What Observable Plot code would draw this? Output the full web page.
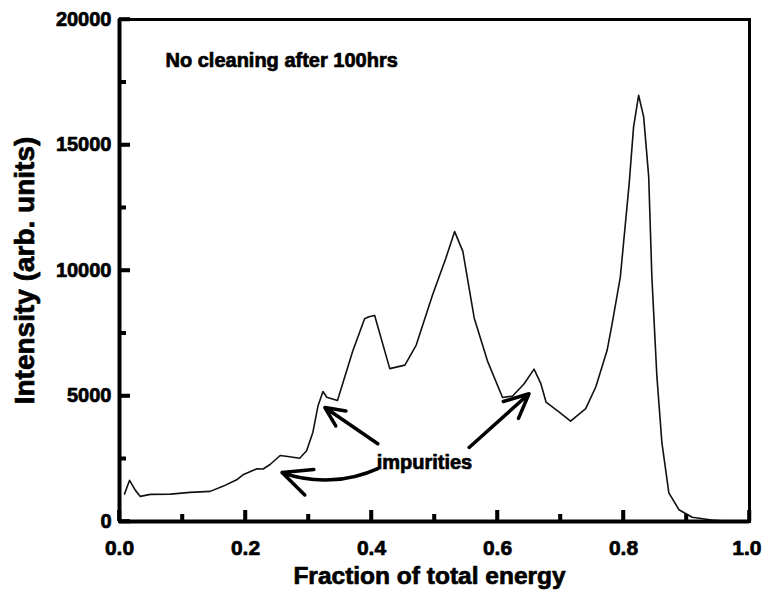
<!DOCTYPE html>
<html>
<head>
<meta charset="utf-8">
<script src="https://cdn.jsdelivr.net/npm/d3@7"></script>
<script src="https://cdn.jsdelivr.net/npm/@observablehq/plot@0.6"></script>
<style>
  body { margin: 0; background: #fff; }
  #chart svg { display: block; }
</style>
</head>
<body>
<div id="chart"></div>
<script>
// Energy spectrum of the plasma, no cleaning after 100 hours
const energy = [
  0.008, 0.016, 0.025, 0.033, 0.049, 0.081, 0.112, 0.144, 0.165, 0.186,
  0.196, 0.218, 0.228, 0.239, 0.255, 0.270, 0.286, 0.297, 0.307, 0.315,
  0.323, 0.329, 0.346, 0.370, 0.389, 0.396, 0.405, 0.429, 0.453, 0.471,
  0.497, 0.518, 0.532, 0.545, 0.563, 0.584, 0.608, 0.624, 0.642, 0.658,
  0.669, 0.677, 0.698, 0.716, 0.740, 0.756, 0.774, 0.782, 0.795, 0.809,
  0.816, 0.824, 0.832, 0.840, 0.845, 0.853, 0.861, 0.872, 0.888, 0.909,
  0.940, 0.970
];
const intensity = [
  1100, 1640, 1250, 1000, 1080, 1090, 1160, 1200, 1410, 1660,
  1860, 2100, 2090, 2270, 2630, 2580, 2520, 2820, 3560, 4600,
  5180, 4950, 4820, 6770, 8080, 8160, 8210, 6090, 6230, 7030,
  9030, 10490, 11550, 10760, 8110, 6400, 4940, 5000, 5480, 6070,
  5480, 4760, 4360, 4000, 4500, 5360, 6820, 7880, 9750, 13460,
  15720, 16980, 16120, 13740, 9760, 5780, 3130, 1140, 470, 170,
  60, 0
];

// Axis ticks
const xMajorTicks = [0, 0.2, 0.4, 0.6, 0.8, 1.0];
const xMinorTicks = [0.1, 0.3, 0.5, 0.7, 0.9];
const yMajorTicks = [0, 5000, 10000, 15000, 20000];
const yMinorTicks = [2500, 7500, 12500, 17500];

// Text labels
const xLabel = "Fraction of total energy";
const yLabel = "Intensity (arb. units)";
const titleText = "No cleaning after 100hrs";
const titleX = 0.073;
const titleY = 18350;
const impurityText = "impurities";
const impurityX = 0.484;
const impurityY = 2350;

// Arrows pointing from the "impurities" label to the impurity peaks
const arrowFromX = [0.410, 0.410, 0.555];
const arrowFromY = [3100, 2110, 2950];
const arrowToX = [0.326, 0.258, 0.650];
const arrowToY = [4540, 1950, 5090];
const arrowBend = [0, 22, 0];

const spectrum = energy.map((e, i) => ({energy: e, intensity: intensity[i]}));
const arrows = arrowFromX.map((x, i) => ({
  x1: x, y1: arrowFromY[i], x2: arrowToX[i], y2: arrowToY[i], bend: arrowBend[i]
}));

const font = "'Liberation Sans', Arial, Helvetica, sans-serif";
// bold text drawn with a thin outline of the same colour for a heavier face
const heavy = {fontWeight: "bold", fill: "#000", stroke: "#000", strokeWidth: 0.7};

const W = 762, H = 602;
const mL = 119, mR = 13, mT = 19, mB = 81;
const innerW = W - mL - mR, innerH = H - mT - mB;
// inward tick marks: short bars kept next to the axis by insetting the rest of the frame
const majorLen = 11, minorLen = 7, half = 1.75;
const tickFill = {fill: "#000", stroke: "none"};

const chart = Plot.plot({
  width: W,
  height: H,
  marginLeft: mL,
  marginRight: mR,
  marginTop: mT,
  marginBottom: mB,
  style: {fontFamily: font, fontWeight: "bold", color: "#000", background: "#fff"},
  x: {domain: [0, 1], axis: null},
  y: {domain: [0, 20000], axis: null},
  marks: [
    // spectrum
    Plot.line(spectrum, {x: "energy", y: "intensity", stroke: "#111", strokeWidth: 1.6}),
    // annotations
    Plot.text([titleText], {x: titleX, y: titleY, textAnchor: "start", fontSize: 20, ...heavy}),
    Plot.text([impurityText], {x: impurityX, y: impurityY, textAnchor: "middle", fontSize: 20, ...heavy}),
    ...arrows.map((a) => Plot.arrow([a], {x1: "x1", y1: "y1", x2: "x2", y2: "y2", bend: a.bend, stroke: "#000", strokeWidth: 3.5, headLength: 14, headAngle: 50})),
    // frame and heavy axes
    Plot.frame({stroke: "#000", strokeWidth: 3}),
    Plot.ruleX([0], {stroke: "#000", strokeWidth: 4}),
    Plot.ruleY([0], {stroke: "#000", strokeWidth: 4}),
    // tick marks on the bottom axis
    Plot.rect(xMajorTicks, {x1: (d) => d, x2: (d) => d, insetLeft: -half, insetRight: -half, insetTop: innerH - majorLen, ...tickFill}),
    Plot.rect(xMinorTicks, {x1: (d) => d, x2: (d) => d, insetLeft: -half, insetRight: -half, insetTop: innerH - minorLen, ...tickFill}),
    Plot.ruleX(xMajorTicks, {x: (d) => d, insetTop: innerH - majorLen, stroke: "#000", strokeWidth: 3.5}),
    Plot.ruleX(xMinorTicks, {x: (d) => d, insetTop: innerH - minorLen, stroke: "#000", strokeWidth: 3.5}),
    // tick marks on the left axis
    Plot.rect(yMajorTicks, {y1: (d) => d, y2: (d) => d, insetTop: -half, insetBottom: -half, insetRight: innerW - majorLen, ...tickFill}),
    Plot.rect(yMinorTicks, {y1: (d) => d, y2: (d) => d, insetTop: -half, insetBottom: -half, insetRight: innerW - minorLen, ...tickFill}),
    Plot.ruleY(yMajorTicks, {y: (d) => d, insetRight: innerW - majorLen, stroke: "#000", strokeWidth: 3.5}),
    Plot.ruleY(yMinorTicks, {y: (d) => d, insetRight: innerW - minorLen, stroke: "#000", strokeWidth: 3.5}),
    // tick labels
    Plot.text(xMajorTicks.slice(0, -1), {x: (d) => d, frameAnchor: "bottom", lineAnchor: "middle", textAnchor: "middle", dy: 27, text: d3.format(".1f"), fontSize: 21, ...heavy}),
    Plot.text(xMajorTicks.slice(-1), {x: (d) => d, frameAnchor: "bottom", lineAnchor: "middle", textAnchor: "end", dx: 12, dy: 27, text: d3.format(".1f"), fontSize: 21, ...heavy}),
    Plot.text(yMajorTicks, {y: (d) => d, frameAnchor: "left", lineAnchor: "middle", textAnchor: "end", dx: -8, text: d3.format("d"), fontSize: 20, ...heavy}),
    // axis titles
    Plot.text([xLabel], {frameAnchor: "bottom", lineAnchor: "middle", textAnchor: "middle", dx: -5, dy: 55, fontSize: 24.5, ...heavy}),
    Plot.text([yLabel], {frameAnchor: "left", lineAnchor: "middle", textAnchor: "middle", rotate: -90, dx: -94, fontSize: 28, ...heavy})
  ]
});

document.getElementById("chart").appendChild(chart);
</script>
</body>
</html>
